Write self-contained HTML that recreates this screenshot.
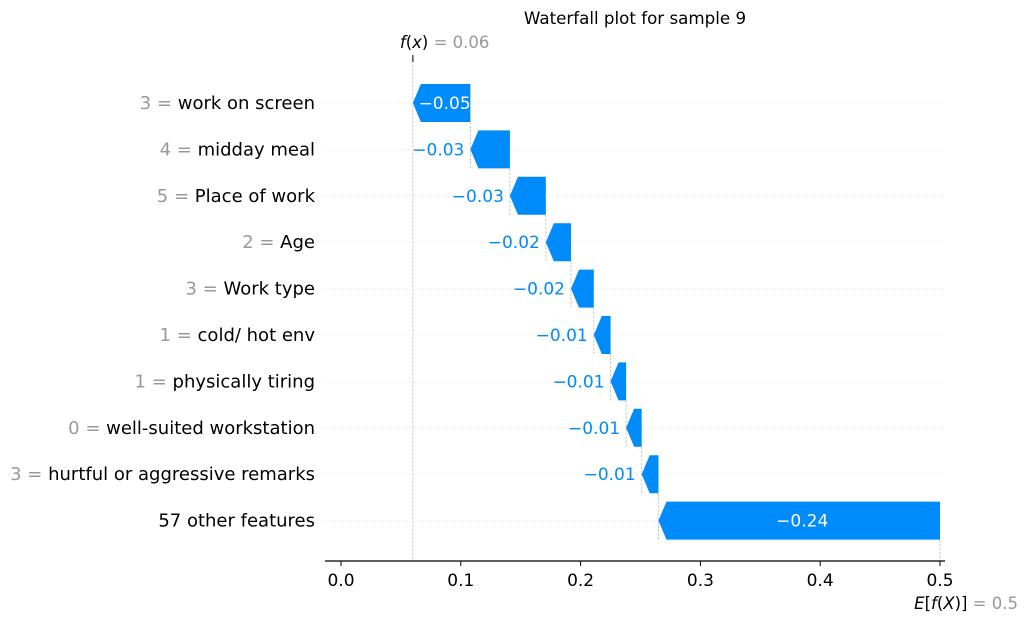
<!DOCTYPE html>
<html><head><meta charset="utf-8"><style>
body{margin:0;background:#fff;font-family:"Liberation Sans","DejaVu Sans",sans-serif}
svg{display:block}
</style></head><body>
<svg id="chart" width="1027" height="622" xmlns="http://www.w3.org/2000/svg" font-family="DejaVu Sans, Liberation Sans, sans-serif">
<text x="635" y="24" text-anchor="middle" font-size="16.7" fill="#000">Waterfall plot for sample 9</text>
</svg>
<script>
const featureValues=["3","4","5","2","3","1","1","0","3",""];
const featureNames=["work on screen","midday meal","Place of work","Age","Work type","cold/ hot env","physically tiring","well-suited workstation","hurtful or aggressive remarks","57 other features"];
const shapValues=[-0.048,-0.033,-0.030,-0.021,-0.019,-0.014,-0.013,-0.013,-0.014,-0.235];
const shapLabels=["\u22120.05","\u22120.03","\u22120.03","\u22120.02","\u22120.02","\u22120.01","\u22120.01","\u22120.01","\u22120.01","\u22120.24"];
const xTicks=[0.0,0.1,0.2,0.3,0.4,0.5];
const xTickLabels=["0.0","0.1","0.2","0.3","0.4","0.5"];
const fx=0.06, baseValue=0.5;

const svg=document.getElementById('chart');
const NS='http://www.w3.org/2000/svg';
const X=v=>341+(v-0)*1198;
const Y=i=>103+i*46.4;
const H=38, BLUE='#008bfb';
function el(tag,attrs,txt){const e=document.createElementNS(NS,tag);for(const k in attrs)e.setAttribute(k,attrs[k]);if(txt!==undefined)e.textContent=txt;svg.appendChild(e);return e;}

for(let i=0;i<featureNames.length;i++){
  const g=el('line',{x1:325,x2:943,y1:Y(i),y2:Y(i),stroke:'#ddd','stroke-width':1,'stroke-dasharray':'1,3'});
  
  
}
const fl=el('line',{x1:X(fx),x2:X(fx),y1:57,y2:561,stroke:'#bbb','stroke-width':0.8,'stroke-dasharray':'2.5,1.5'});


el('line',{x1:X(fx),x2:X(fx),y1:55,y2:62,stroke:'#000','stroke-width':1});

let cum=fx;
for(let i=0;i<shapValues.length;i++){
  const a=cum, b=cum-shapValues[i];
  const x0=X(a), x1=X(b), y=Y(i);
  const hl=Math.min(8,(x1-x0));
  const pts=[[x0,y],[x0+hl,y-H/2],[x1,y-H/2],[x1,y+H/2],[x0+hl,y+H/2]].map(p=>p.join(',')).join(' ');
  const bar=el('polygon',{points:pts,fill:BLUE});
  
  
  if(i<shapValues.length-1){
    const c=el('line',{x1:x1,x2:x1,y1:y+H/2,y2:Y(i+1)+H/2,stroke:'#bbb','stroke-width':0.8,'stroke-dasharray':'2.5,1.5'});
    
    
  } else {
    const c=el('line',{x1:x1,x2:x1,y1:y+H/2,y2:561,stroke:'#bbb','stroke-width':0.8,'stroke-dasharray':'2.5,1.5'});
    
    
  }
  let t;
  if(x1-x0>50){
    t=el('text',{x:(x0+x1)/2+3,y:y+6,'text-anchor':'middle','font-size':17,fill:'#fff'},shapLabels[i]);
  } else {
    t=el('text',{x:x0-6,y:y+6,'text-anchor':'end','font-size':17,fill:BLUE},shapLabels[i]);
  }
  
  
  const lab=el('text',{x:315,y:y+6,'text-anchor':'end','font-size':18});
  
  
  if(featureValues[i]!==''){
    const s1=document.createElementNS(NS,'tspan');s1.setAttribute('fill','#999');s1.textContent=featureValues[i]+' = ';lab.appendChild(s1);
  }
  const s2=document.createElementNS(NS,'tspan');s2.setAttribute('fill','#000');s2.textContent=featureNames[i];lab.appendChild(s2);
  cum=b;
}
const ax=el('line',{x1:325,x2:945,y1:561,y2:561,stroke:'#000','stroke-width':1.2});


xTicks.forEach((v,i)=>{
  el('line',{x1:X(v),x2:X(v),y1:561,y2:566,stroke:'#000','stroke-width':1});
  const t=el('text',{x:X(v),y:586,'text-anchor':'middle','font-size':17,fill:'#000'},xTickLabels[i]);
  
  
});
const fxl=el('text',{x:X(fx)-13,y:48,'font-size':16.5});


fxl.innerHTML='<tspan fill="#000" font-style="italic">f</tspan><tspan fill="#000">(</tspan><tspan fill="#000" font-style="italic">x</tspan><tspan fill="#000">)</tspan><tspan fill="#999"> = '+fx.toFixed(2)+'</tspan>';
const el2=el('text',{x:1018,y:609,'text-anchor':'end','font-size':16.5});


el2.innerHTML='<tspan fill="#000" font-style="italic">E</tspan><tspan fill="#000">[</tspan><tspan fill="#000" font-style="italic">f</tspan><tspan fill="#000">(</tspan><tspan fill="#000" font-style="italic">X</tspan><tspan fill="#000">)]</tspan><tspan fill="#999"> = '+baseValue+'</tspan>';
</script>
</body></html>
